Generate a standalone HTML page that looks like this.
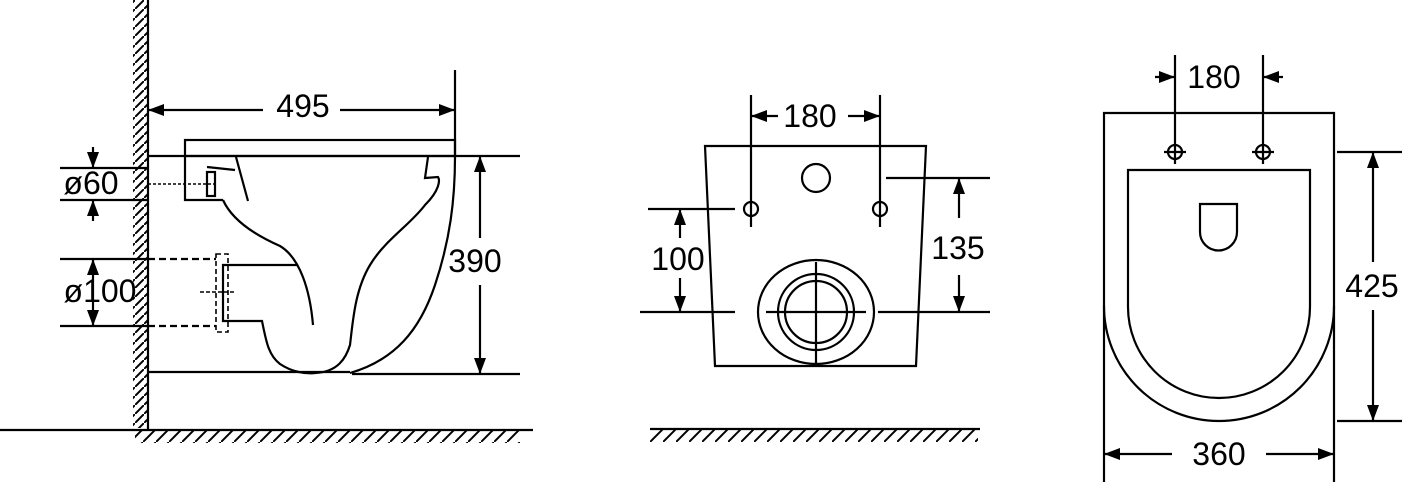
<!DOCTYPE html>
<html><head><meta charset="utf-8"><style>
html,body{margin:0;padding:0;background:#fff;}
svg{display:block;}
text{font-family:"Liberation Sans",Arial,sans-serif;font-size:32px;fill:#000;}
</style></head><body>
<svg width="1408" height="482" viewBox="0 0 1408 482" xmlns="http://www.w3.org/2000/svg">
<defs>
<marker id="a" viewBox="0 0 16 12" refX="16" refY="6" markerWidth="16" markerHeight="12" markerUnits="userSpaceOnUse" orient="auto-start-reverse">
<path d="M0,0 L16,6 L0,12 z" fill="#000"/>
</marker>
<pattern id="hw" width="9" height="9" patternUnits="userSpaceOnUse">
<path d="M-1,10 L10,-1" stroke="#000" stroke-width="2"/>
</pattern>
<pattern id="hf" width="13" height="13" patternUnits="userSpaceOnUse">
<path d="M0,13 L13,0" stroke="#000" stroke-width="2"/>
</pattern>
</defs>
<g fill="none" stroke="#000" stroke-width="2.2">
<!-- LEFT VIEW -->
<rect x="133" y="0" width="14" height="428" fill="url(#hw)" stroke="none"/>
<line x1="148" y1="0" x2="148" y2="430"/>
<line x1="0" y1="430" x2="533" y2="430"/>
<rect x="135" y="431" width="385" height="12" fill="url(#hf)" stroke="none"/>
<!-- 495 -->
<line x1="455" y1="70" x2="455" y2="157"/>
<line x1="148" y1="110" x2="263" y2="110" marker-start="url(#a)"/>
<line x1="340" y1="110" x2="455" y2="110" marker-end="url(#a)"/>
<!-- seat -->
<rect x="185" y="140" width="270" height="16"/>
<line x1="148" y1="156" x2="520" y2="156"/>
<line x1="148" y1="372" x2="350" y2="372"/>
<line x1="352" y1="374" x2="520" y2="374"/>
<!-- 390 -->
<line x1="480" y1="156" x2="480" y2="238" marker-start="url(#a)"/>
<line x1="480" y1="285" x2="480" y2="374" marker-end="url(#a)"/>
<!-- ø60 -->
<line x1="60" y1="168" x2="148" y2="168"/>
<line x1="60" y1="200" x2="148" y2="200"/>
<line x1="93" y1="147" x2="93" y2="168" marker-end="url(#a)"/>
<line x1="93" y1="221" x2="93" y2="200" marker-end="url(#a)"/>
<!-- ø100 -->
<line x1="60" y1="259" x2="148" y2="259"/>
<line x1="60" y1="326" x2="148" y2="326"/>
<line x1="148" y1="259" x2="216" y2="259" stroke-dasharray="7,4"/>
<line x1="148" y1="326" x2="216" y2="326" stroke-dasharray="7,4"/>
<line x1="93" y1="259" x2="93" y2="326" marker-start="url(#a)" marker-end="url(#a)"/>
<!-- inlet -->
<path d="M185,156 L185,200 L223,200"/>
<rect x="207" y="172" width="8" height="24"/>
<line x1="148" y1="184" x2="215" y2="184" stroke-dasharray="3,2" stroke-width="1.5"/>
<path d="M207,167 L235,170"/>
<line x1="236" y1="157" x2="248" y2="201"/>
<!-- bowl -->
<path d="M223,200 C232,220 255,235 280,246 C300,258 310,290 313,325"/>
<path d="M297,265 L223,265 L223,321 L262,321 C266,340 268,355 280,364 C292,372 305,374 315,373 C338,372 346,358 350,345 C353,320 355,290 370,265 C385,240 410,225 425,205 C440,190 440,180 438,177 L425,178 L428,157"/>
<path d="M455,157 C455,200 450,240 435,285 C420,330 395,360 350,373"/>
<rect x="216" y="254" width="12" height="78" stroke-dasharray="5,3" stroke-width="1.6"/>
<line x1="200" y1="292" x2="236" y2="292" stroke-dasharray="4,2" stroke-width="1.5"/>

<!-- MIDDLE VIEW -->
<path d="M705,146 L926,146 L916,366 L715,366 Z"/>
<line x1="751" y1="95" x2="751" y2="227"/>
<line x1="880" y1="95" x2="880" y2="227"/>
<line x1="751" y1="116" x2="778" y2="116" marker-start="url(#a)"/>
<line x1="848" y1="116" x2="880" y2="116" marker-end="url(#a)"/>
<circle cx="751" cy="209" r="7"/>
<circle cx="880" cy="209" r="7"/>
<circle cx="816" cy="178" r="14"/>
<ellipse cx="816" cy="312" rx="58" ry="52"/>
<circle cx="816" cy="312" r="38"/>
<circle cx="816" cy="312" r="31"/>
<line x1="766" y1="312" x2="866" y2="312"/>
<line x1="816" y1="262" x2="816" y2="364"/>
<line x1="648" y1="209" x2="735" y2="209"/>
<line x1="640" y1="312" x2="735" y2="312"/>
<line x1="878" y1="312" x2="990" y2="312"/>
<line x1="886" y1="178" x2="990" y2="178"/>
<line x1="680" y1="209" x2="680" y2="238" marker-start="url(#a)"/>
<line x1="680" y1="278" x2="680" y2="312" marker-end="url(#a)"/>
<line x1="959" y1="178" x2="959" y2="218" marker-start="url(#a)"/>
<line x1="959" y1="275" x2="959" y2="312" marker-end="url(#a)"/>
<line x1="650" y1="429" x2="980" y2="429"/>
<rect x="650" y="430" width="328" height="12" fill="url(#hf)" stroke="none"/>

<!-- RIGHT VIEW -->
<path d="M1104,482 L1104,113 L1334,113 L1334,482"/>
<path d="M1104,306 A115,115 0 0 0 1334,306"/>
<path d="M1128,307 L1128,170 L1310,170 L1310,307 A91,91 0 0 1 1128,307"/>
<path d="M1200,232 L1200,204 L1237,204 L1237,232 A18.5,18.5 0 0 1 1200,232"/>
<circle cx="1175" cy="152" r="7"/>
<circle cx="1263" cy="152" r="7"/>
<line x1="1164" y1="152" x2="1186" y2="152"/>
<line x1="1252" y1="152" x2="1274" y2="152"/>
<line x1="1175" y1="55" x2="1175" y2="164"/>
<line x1="1263" y1="55" x2="1263" y2="164"/>
<line x1="1155" y1="77" x2="1175" y2="77" marker-end="url(#a)"/>
<line x1="1283" y1="77" x2="1263" y2="77" marker-end="url(#a)"/>
<line x1="1337" y1="152" x2="1402" y2="152"/>
<line x1="1337" y1="421" x2="1402" y2="421"/>
<line x1="1373" y1="152" x2="1373" y2="262" marker-start="url(#a)"/>
<line x1="1373" y1="310" x2="1373" y2="421" marker-end="url(#a)"/>
<line x1="1104" y1="454" x2="1172" y2="454" marker-start="url(#a)"/>
<line x1="1266" y1="454" x2="1334" y2="454" marker-end="url(#a)"/>
</g>
<g>
<text x="303" y="117" text-anchor="middle">495</text>
<text x="475" y="272" text-anchor="middle">390</text>
<text x="91" y="194" text-anchor="middle">ø60</text>
<text x="100" y="302" text-anchor="middle">ø100</text>
<text x="810" y="127" text-anchor="middle">180</text>
<text x="678" y="270" text-anchor="middle">100</text>
<text x="958" y="259" text-anchor="middle">135</text>
<text x="1214" y="88" text-anchor="middle">180</text>
<text x="1372" y="297" text-anchor="middle">425</text>
<text x="1219" y="465" text-anchor="middle">360</text>
</g>
</svg>
</body></html>
